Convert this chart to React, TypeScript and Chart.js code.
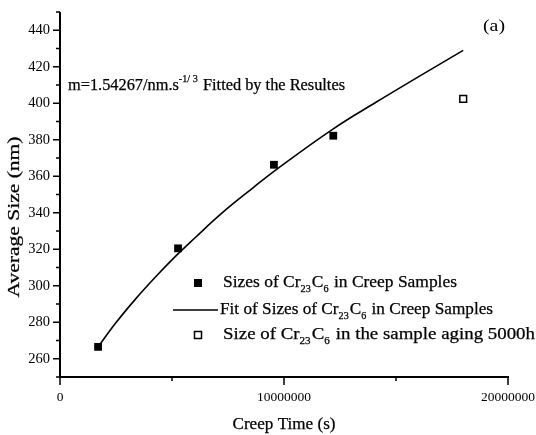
import React, { useEffect, useRef } from 'react';
import { Chart, registerables } from 'chart.js';

Chart.register(...registerables);

// Data
const creepTimes = [1700000, 5270000, 9550000, 12200000];
const creepSizes = [266.5, 320.5, 366.3, 382.2];
const agingTimes = [18000000];
const agingSizes = [402.4];
const fitTimes = [1710000, 2450000, 3350000, 4240000, 5130000, 6030000, 7200000, 8630000, 9670000, 12200000, 14140000, 16070000, 18000000];
const fitSizes = [266.6, 279, 292.4, 304.5, 315.8, 326.3, 339.5, 353.8, 363.8, 386, 400.8, 415, 429];
const xMajorTicks = [0, 10000000, 20000000];
const xMinorTicks = [5000000, 15000000];
const yMajorTicks = [260, 280, 300, 320, 340, 360, 380, 400, 420, 440];
const yMinorTicks = [250, 270, 290, 310, 330, 350, 370, 390, 410, 430, 450];

const xTitle = 'Creep Time (s)';
const yTitle = 'Average Size (nm)';
const panelLabel = '(a)';

type Seg = { t: string; sub?: boolean; sup?: boolean };

const annotation: Seg[] = [
  { t: 'm=1.54267/nm.s' },
  { t: '-1/ 3', sup: true },
  { t: ' Fitted by the Resultes' },
];

const legendRows: { kind: string; segs: Seg[] }[] = [
  { kind: 'filled', segs: [{ t: 'Sizes of Cr' }, { t: '23', sub: true }, { t: 'C' }, { t: '6', sub: true }, { t: ' in Creep Samples' }] },
  { kind: 'line', segs: [{ t: 'Fit of Sizes of Cr' }, { t: '23', sub: true }, { t: 'C' }, { t: '6', sub: true }, { t: ' in Creep Samples' }] },
  { kind: 'open', segs: [{ t: 'Size of Cr' }, { t: '23', sub: true }, { t: 'C' }, { t: '6', sub: true }, { t: ' in the sample aging 5000h' }] },
];

const SERIF = '"Liberation Serif", "DejaVu Serif", serif';

function segFont(s: Seg, size: number) {
  return `${s.sub || s.sup ? Math.round(size * 0.6) : size}px ${SERIF}`;
}

function richWidth(ctx: CanvasRenderingContext2D, segs: Seg[], size: number) {
  let w = 0;
  segs.forEach((s) => {
    ctx.font = segFont(s, size);
    w += ctx.measureText(s.t).width + (s.sub || s.sup ? 1 : 0);
  });
  return w;
}

// draws rich text starting at x (left), middle at y, stretched to targetWidth
function drawRich(ctx: CanvasRenderingContext2D, segs: Seg[], x: number, y: number, size: number, targetWidth: number) {
  const w = richWidth(ctx, segs, size);
  const k = targetWidth / w;
  ctx.save();
  ctx.translate(x, y);
  ctx.scale(k, 1);
  ctx.textBaseline = 'middle';
  ctx.textAlign = 'left';
  ctx.lineWidth = 0.25;
  let cx = 0;
  segs.forEach((s) => {
    ctx.font = segFont(s, size);
    const dy = s.sub ? size * 0.38 : s.sup ? -size * 0.4 : 0;
    ctx.fillText(s.t, cx, dy);
    ctx.strokeText(s.t, cx, dy);
    cx += ctx.measureText(s.t).width + (s.sub || s.sup ? 1 : 0);
  });
  ctx.restore();
}

const decorPlugin = {
  id: 'decor',
  afterDraw(chart: any) {
    const ctx: CanvasRenderingContext2D = chart.ctx;
    const xs = chart.scales.x;
    const ys = chart.scales.y;
    const { left, right, top, bottom } = chart.chartArea;
    ctx.save();
    ctx.strokeStyle = '#000';
    ctx.fillStyle = '#000';
    ctx.lineWidth = 2;
    ctx.beginPath();
    ctx.moveTo(left, top);
    ctx.lineTo(left, bottom);
    ctx.lineTo(right + 1, bottom);
    ctx.stroke();
    ctx.lineWidth = 1.5;
    ctx.beginPath();
    yMajorTicks.forEach((v) => {
      const py = ys.getPixelForValue(v);
      ctx.moveTo(left, py);
      ctx.lineTo(left - 7, py);
    });
    yMinorTicks.forEach((v) => {
      const py = ys.getPixelForValue(v);
      ctx.moveTo(left, py);
      ctx.lineTo(left - 4, py);
    });
    xMajorTicks.forEach((v) => {
      const px = xs.getPixelForValue(v);
      ctx.moveTo(px, bottom);
      ctx.lineTo(px, bottom + 8);
    });
    xMinorTicks.forEach((v) => {
      const px = xs.getPixelForValue(v);
      ctx.moveTo(px, bottom);
      ctx.lineTo(px, bottom + 4);
    });
    ctx.stroke();

    // axis titles
    ctx.textBaseline = 'middle';
    ctx.textAlign = 'left';
    ctx.lineWidth = 0.25;
    ctx.font = `16px ${SERIF}`;
    const xtw = ctx.measureText(xTitle).width;
    ctx.save();
    ctx.translate(284 - 103 / 2, 425);
    ctx.scale(103 / xtw, 1);
    ctx.fillText(xTitle, 0, 0);
    ctx.strokeText(xTitle, 0, 0);
    ctx.restore();

    ctx.font = `16px ${SERIF}`;
    const ytw = ctx.measureText(yTitle).width;
    ctx.save();
    ctx.translate(15, 217 + 161 / 2);
    ctx.rotate(-Math.PI / 2);
    ctx.scale(161 / ytw, 1);
    ctx.fillText(yTitle, 0, 0);
    ctx.strokeText(yTitle, 0, 0);
    ctx.restore();

    // annotation
    drawRich(ctx, annotation, 68, 86, 16, 277);

    // panel label
    ctx.font = `17px ${SERIF}`;
    const pw = ctx.measureText(panelLabel).width;
    ctx.save();
    ctx.translate(483, 27);
    ctx.scale(22 / pw, 1);
    ctx.fillText(panelLabel, 0, 0);
    ctx.restore();

    // legend
    const rowsY = [283, 310, 335];
    const rowsX = [223, 220, 223];
    const rowsW = [234, 273, 312];
    legendRows.forEach((r, i) => {
      const y = rowsY[i];
      if (r.kind === 'filled') {
        ctx.fillRect(198 - 4, y - 4, 8, 8);
      } else if (r.kind === 'line') {
        ctx.lineWidth = 1.5;
        ctx.beginPath();
        ctx.moveTo(173, y);
        ctx.lineTo(218, y);
        ctx.stroke();
      } else {
        ctx.lineWidth = 1.5;
        ctx.strokeRect(198 - 3.5, y - 3.5, 7, 7);
      }
      drawRich(ctx, r.segs, rowsX[i], y, 17, rowsW[i]);
    });
    ctx.restore();
  },
};

export default function App() {
  const ref = useRef<HTMLCanvasElement | null>(null);
  useEffect(() => {
    document.body.style.margin = '0';
    const canvas = ref.current!;
    const chart = new Chart(canvas, {
      type: 'scatter',
      data: {
        datasets: [
          {
            label: 'Fit',
            type: 'line',
            data: fitTimes.map((t, i) => ({ x: t, y: fitSizes[i] })),
            borderColor: '#000',
            borderWidth: 1.6,
            pointRadius: 0,
            tension: 0.4,
            fill: false,
          } as any,
          {
            label: 'Creep',
            data: creepTimes.map((t, i) => ({ x: t, y: creepSizes[i] })),
            pointStyle: 'rect',
            pointRadius: 5.5,
            backgroundColor: '#000',
            borderColor: '#000',
            borderWidth: 0,
          },
          {
            label: 'Aging',
            data: agingTimes.map((t, i) => ({ x: t, y: agingSizes[i] })),
            pointStyle: 'rect',
            pointRadius: 4.8,
            backgroundColor: '#fff',
            borderColor: '#000',
            borderWidth: 1.5,
          },
        ],
      },
      options: {
        animation: false,
        responsive: false,
        maintainAspectRatio: false,
        layout: { padding: { top: 12, right: 28, left: 0, bottom: 0 } },
        plugins: { legend: { display: false }, tooltip: { enabled: false } },
        scales: {
          x: {
            type: 'linear',
            min: 0,
            max: 20000000,
            grid: { display: false, drawTicks: false },
            border: { display: false },
            afterFit: (s: any) => { s.height = 58; s.paddingLeft = 0; s.paddingRight = 0; },
            afterBuildTicks: (s: any) => { s.ticks = xMajorTicks.map((v) => ({ value: v })); },
            ticks: {
              color: '#000',
              font: { family: SERIF, size: 13.5 },
              padding: 12,
              maxRotation: 0,
              callback: (v: any) => String(v),
            },
          },
          y: {
            type: 'linear',
            min: 250,
            max: 450,
            grid: { display: false, drawTicks: false },
            border: { display: false },
            afterFit: (s: any) => { s.width = 60; s.paddingTop = 0; s.paddingBottom = 0; },
            afterBuildTicks: (s: any) => { s.ticks = yMajorTicks.map((v) => ({ value: v })); },
            ticks: {
              color: '#000',
              font: { family: SERIF, size: 14.5 },
              padding: 10,
              callback: (v: any) => String(v),
            },
          },
        },
      },
      plugins: [decorPlugin],
    });
    return () => chart.destroy();
  }, []);
  return (
    <div style={{ width: 536, height: 435, background: '#fff' }}>
      <canvas ref={ref} width={536} height={435} style={{ display: 'block', width: 536, height: 435 }} />
    </div>
  );
}
